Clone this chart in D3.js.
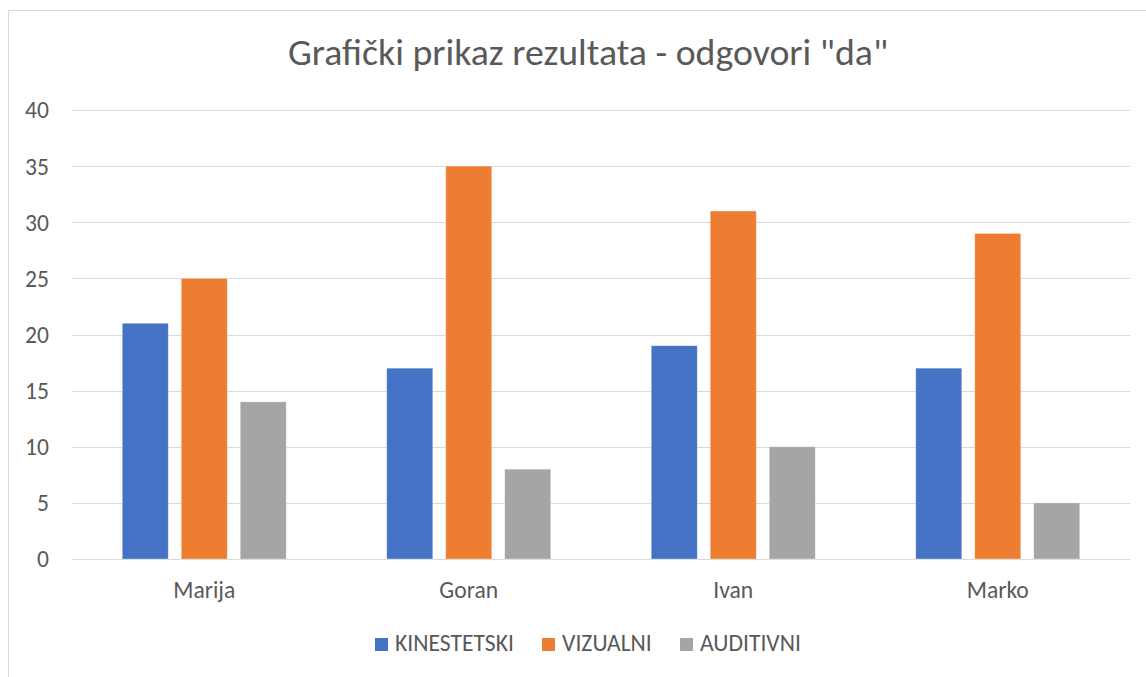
<!DOCTYPE html>
<html>
<head>
<meta charset="utf-8">
<script src="https://cdn.jsdelivr.net/npm/d3@7"></script>
<style>
  body { margin: 0; background: #fff; }
  svg { display: block; }
  text { font-family: Carlito, Calibri, "Open Sans", sans-serif; fill: #595959; }
</style>
</head>
<body>
<div id="chart"></div>
<script>
var categories = ["Marija", "Goran", "Ivan", "Marko"];
var seriesNames = ["KINESTETSKI", "VIZUALNI", "AUDITIVNI"];
var kinestetski = [21, 17, 19, 17];
var vizualni = [25, 35, 31, 29];
var auditivni = [14, 8, 10, 5];
var yTicks = [0, 5, 10, 15, 20, 25, 30, 35, 40];
var colors = ["#4472C4", "#ED7D31", "#A5A5A5"];

var width = 1146, height = 677;
var margin = { left: 72, right: 16, top: 110, bottom: 118 };

var svg = d3.select("#chart").append("svg")
  .attr("width", width)
  .attr("height", height);

// work out a label size so that "KINESTETSKI" is about 119px wide, as in the picture
var probe = svg.append("text").style("font-size", "20px").text("KINESTETSKI");
var pw = probe.node().getComputedTextLength();
probe.remove();
var fs = pw > 0 ? 20 * 119 / pw : 24;
var labelSize = fs.toFixed(1) + "px";

// chart frame (cropped on the right and bottom)
svg.append("rect")
  .attr("x", 8.5).attr("y", 10.5)
  .attr("width", 1160).attr("height", 700)
  .attr("fill", "none")
  .attr("stroke", "#d9d9d9");

var x0 = d3.scaleBand()
  .domain(categories)
  .range([margin.left, width - margin.right])
  .paddingInner(0.38)
  .paddingOuter(0.19);

var x1 = d3.scaleBand()
  .domain(seriesNames)
  .range([0, x0.bandwidth()])
  .paddingInner(0.22);

var y = d3.scaleLinear()
  .domain([0, 40])
  .range([height - margin.bottom, margin.top]);

// gridlines
svg.append("g").selectAll("line")
  .data(yTicks)
  .enter().append("line")
  .attr("x1", margin.left)
  .attr("x2", width - margin.right)
  .attr("y1", function(d) { return Math.round(y(d)) + 0.5; })
  .attr("y2", function(d) { return Math.round(y(d)) + 0.5; })
  .attr("stroke", "#d9d9d9")
  .attr("stroke-width", 1.2);

// y axis labels
svg.append("g").selectAll("text")
  .data(yTicks)
  .enter().append("text")
  .attr("x", 49)
  .attr("y", function(d) { return y(d); })
  .attr("dy", "0.36em")
  .attr("text-anchor", "end")
  .style("font-size", labelSize)
  .text(function(d) { return d; });

// bars
var rows = categories.map(function(c, i) {
  return { cat: c, values: [kinestetski[i], vizualni[i], auditivni[i]] };
});

var group = svg.append("g").selectAll("g")
  .data(rows)
  .enter().append("g")
  .attr("transform", function(d) { return "translate(" + x0(d.cat) + ",0)"; });

group.selectAll("rect")
  .data(function(d) {
    return d.values.map(function(v, j) { return { name: seriesNames[j], value: v, j: j }; });
  })
  .enter().append("rect")
  .attr("x", function(d) { return x1(d.name); })
  .attr("y", function(d) { return y(d.value); })
  .attr("width", x1.bandwidth())
  .attr("height", function(d) { return y(0) - y(d.value); })
  .attr("fill", function(d) { return colors[d.j]; })
  .attr("stroke", "#fff")
  .attr("stroke-opacity", 0.4)
  .attr("stroke-width", 0.8);

// category labels
svg.append("g").selectAll("text")
  .data(categories)
  .enter().append("text")
  .attr("x", function(d) { return x0(d) + x0.bandwidth() / 2; })
  .attr("y", 598)
  .attr("text-anchor", "middle")
  .style("font-size", labelSize)
  .text(function(d) { return d; });

// title
var title = svg.append("text")
  .attr("x", 588)
  .attr("y", 65)
  .attr("text-anchor", "middle")
  .style("font-size", "31px")
  .text("Grafički prikaz rezultata - odgovori \"da\"");
var tw = title.node().getComputedTextLength();
if (tw > 0) title.style("font-size", (31 * 600 / tw).toFixed(1) + "px");

// legend
var legendX = [375, 542, 680];
var legend = svg.append("g").selectAll("g")
  .data(seriesNames)
  .enter().append("g")
  .attr("transform", function(d, i) { return "translate(" + legendX[i] + ",638)"; });

legend.append("rect")
  .attr("width", 13).attr("height", 13)
  .attr("fill", function(d, i) { return colors[i]; });

legend.append("text")
  .attr("x", 20)
  .attr("y", 13)
  .style("font-size", labelSize)
  .text(function(d) { return d; });
</script>
</body>
</html>
